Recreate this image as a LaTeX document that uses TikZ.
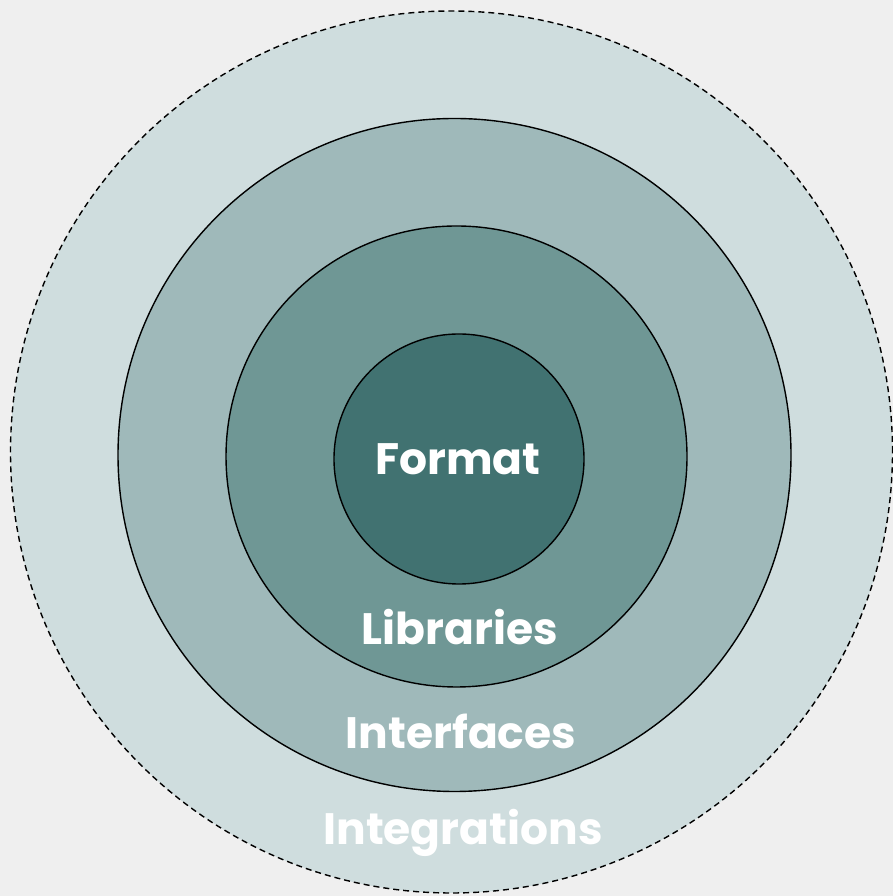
\documentclass[tikz,border=0pt]{standalone}
\usepackage{fontspec}
\setmainfont{Poppins}
\begin{document}
\begin{tikzpicture}[x=1pt,y=1pt,
  ring/.style={circle, draw=black, line width=1.4pt, inner sep=0pt},
  lbl/.style={text=white, font=\fontsize{44}{44}\selectfont\bfseries, inner sep=0pt}]
\useasboundingbox[fill={rgb,255:red,239;green,239;blue,239}] (0,0) rectangle (893,896);
\node[ring, dashed, dash pattern=on 6pt off 4pt, fill={rgb,255:red,207;green,221;blue,222}, minimum size=882pt] (outer) at (451.5,444) {};
\node[ring, fill={rgb,255:red,159;green,185;blue,186}, minimum size=673pt] (iface) at (454.5,441) {};
\node[ring, fill={rgb,255:red,111;green,151;blue,149}, minimum size=461pt] (libs) at (456.5,439.5) {};
\node[ring, fill={rgb,255:red,65;green,114;blue,113}, minimum size=250pt] (core) at (459,437) {};
\node[lbl] (tformat) at (458,437) {Format};
\node[lbl] (tlibs) at (460,269) {Libraries};
\node[lbl] (tiface) at (461,165) {Interfaces};
\node[lbl] (tinteg) at (463,63) {Integrations};
\end{tikzpicture}
\end{document}
